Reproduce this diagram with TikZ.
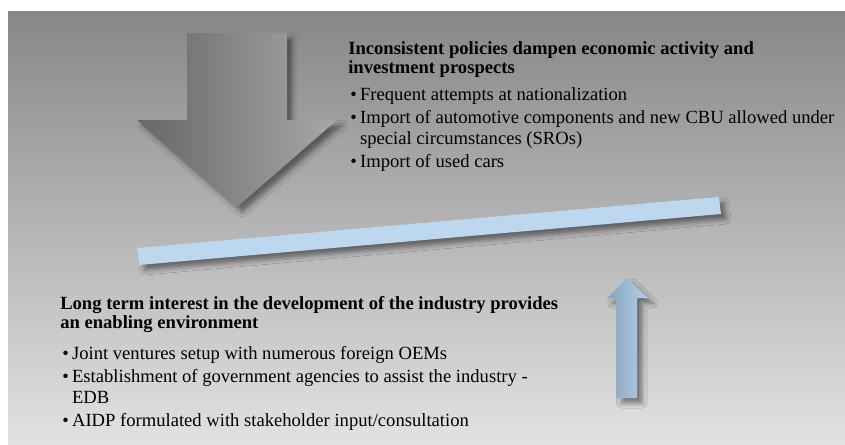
\documentclass[tikz,border=0pt]{standalone}
\usepackage{fontspec}
\setmainfont{Liberation Serif}
\usetikzlibrary{shadows.blur}

\definecolor{bgtop}{HTML}{878787}
\definecolor{bgmid}{HTML}{C4C4C4}
\definecolor{bgbot}{HTML}{E2E2E2}
\definecolor{downL}{HTML}{686666}
\definecolor{downR}{HTML}{AAA8A6}
\definecolor{barblue}{HTML}{BDD7EE}
\definecolor{upL}{HTML}{86A2BE}
\definecolor{upR}{HTML}{B6D0E9}

\tikzset{
  heading/.style={anchor=base west, inner sep=0pt, font=\fontsize{13.95}{14.25}\selectfont\bfseries},
  bullets/.style={anchor=base west, inner sep=0pt, font=\fontsize{13.95}{15.75}\selectfont},
  shadowed/.style={blur shadow={shadow xshift=4pt, shadow yshift=-4pt, shadow blur radius=3.5pt, shadow opacity=45}}
}

\begin{document}
\begin{tikzpicture}[x=0.75pt, y=-0.75pt]
  \useasboundingbox (0,0) rectangle (845,444);
  \shade[top color=bgtop, middle color=bgmid, bottom color=bgbot] (8,11) rectangle (845,444); % backdrop

  % big grey arrow pushing down
  \path[shadowed, left color=downL, right color=downR]
    (187,33) -- (287,33) -- (287,120) -- (337,120) -- (237,207) -- (137,120) -- (187,120) -- cycle;
  % tilted beam
  \path[shadowed, fill=barblue] (137,248) -- (719,197) -- (721,214) -- (139,265) -- cycle;
  % small blue arrow pushing up
  \path[shadowed, left color=upL, right color=upR]
    (627,278) -- (648,298) -- (637,298) -- (637,398) -- (616,398) -- (616,298) -- (607,298) -- cycle;

  \node[heading] (topHead) at (348,54) {\begin{tabular}[t]{@{}l@{}}
    Inconsistent policies dampen economic activity and\\
    investment prospects\end{tabular}};
  \node[bullets] (topList) at (350,100) {\begin{tabular}[t]{@{}l@{\hspace{2.5pt}}l@{}}
    \textbullet & Frequent attempts at nationalization\\[1.5pt]
    \textbullet & Import of automotive components and new CBU allowed under\\
                & special circumstances (SROs)\\[1.5pt]
    \textbullet & Import of used cars\end{tabular}};

  \node[heading] (lowHead) at (60,309) {\begin{tabular}[t]{@{}l@{}}
    Long term interest in the development of the industry provides\\
    an enabling environment\end{tabular}};
  \node[bullets] (lowList) at (62,359) {\begin{tabular}[t]{@{}l@{\hspace{2.5pt}}l@{}}
    \textbullet & Joint ventures setup with numerous foreign OEMs\\[1.5pt]
    \textbullet & Establishment of government agencies to assist the industry -\\
                & EDB\\[1.5pt]
    \textbullet & AIDP formulated with stakeholder input/consultation\end{tabular}};
\end{tikzpicture}
\end{document}
